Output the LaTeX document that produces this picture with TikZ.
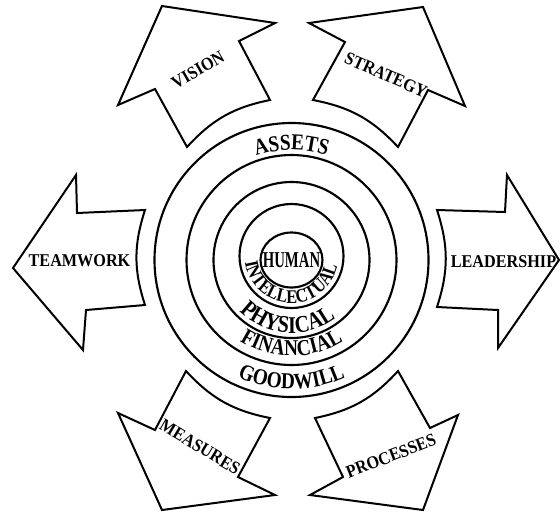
\documentclass[tikz,border=0pt]{standalone}
\usepackage{fontspec}
\setmainfont{Liberation Serif}
\newfontfamily\ringfont[FakeStretch=0.85]{Liberation Serif}
\newfontfamily\arrfont[FakeStretch=0.9]{Liberation Serif}
\newfontfamily\humfont[FakeStretch=0.65]{Liberation Serif}
\usetikzlibrary{decorations.text,calc}
\newcommand\ringstyle{\ringfont\bfseries\fontsize{17}{17}\selectfont}
\newcommand\physstyle{\ringfont\bfseries\fontsize{18}{18}\selectfont}
\newcommand\innerstyle{\ringfont\bfseries\fontsize{14.5}{14.5}\selectfont}
\newcommand\bigarrow[8]{%
  \draw[arrowshape] ($(#1)!0.5!(#2)$) -- (#2) -- (#3) -- (#4) -- (#5) -- (#6) -- (#7) to[bend left=#8] (#1) -- cycle;}
\begin{document}
\begin{tikzpicture}[x=0.75pt,y=0.75pt,
  arrowshape/.style={draw=black, line width=1.5pt, line join=miter, miter limit=10},
  ring/.style={draw=black, line width=1.6pt},
  arrlabel/.style={font=\arrfont\bfseries\fontsize{13.5}{13.5}\selectfont, inner sep=0pt},
  ringtext/.style={decorate, decoration={text along path, text align=center, text={#1}}}]
\useasboundingbox (0,0) rectangle (560,-512);
\coordinate (C) at (291.5,-260);
\coordinate (C4) at (291.5,-256);
% rings
\draw[ring] (C) circle[radius=137];
\draw[ring] (C) circle[radius=105];
\draw[ring] (C) circle[radius=78];
\draw[ring] (C4) circle[radius=52];
\draw[ring] (C) ellipse[x radius=31, y radius=27.5];
% arrows
\bigarrow{437,-307}{498,-310}{498,-348}{559,-260}{507,-175}{505,-212}{437,-210}{18}
\bigarrow{145,-210}{77,-213}{76,-175}{13,-268}{83,-350}{86,-310}{145,-305}{18}
\bigarrow{270,-100}{239,-41}{275,-23}{162,-6}{118,-105}{155,-89}{187,-147}{18}
\bigarrow{398,-147}{428,-90}{465,-106}{423,-7}{309,-23}{345,-42}{313,-100}{18}
\bigarrow{186,-371}{155,-430}{118,-413}{162,-510}{275,-495}{238,-477}{270,-418}{18}
\bigarrow{315,-418}{343,-477}{310,-495}{423,-510}{458,-415}{430,-428}{398,-371}{18}
% arrow labels
\node[arrlabel, rotate=30] (vision) at (198,-70) {VISION};
\node[arrlabel, rotate=-24] (strategy) at (386,-75) {STRATEGY};
\node[arrlabel] (teamwork) at (79.5,-261) {TEAMWORK};
\node[arrlabel] (leadership) at (503.5,-262) {LEADERSHIP};
\node[arrlabel, rotate=-31] (measures) at (200,-447) {MEASURES};
\node[arrlabel, rotate=21] (processes) at (391,-456) {PROCESSES};
% ring texts
\path[ringtext={|\ringstyle|ASSETS}] ($(C)+(160:110)$) arc[start angle=160, end angle=20, radius=110];
\path[ringtext={|\ringstyle|GOODWILL}] ($(C)+(200:129)$) arc[start angle=200, end angle=340, radius=129];
\path[ringtext={|\ringstyle|FINANCIAL}] ($(C)+(190:96)$) arc[start angle=190, end angle=350, radius=96];
\path[ringtext={|\physstyle|PHYSICAL}] ($(C)+(176:73)$) arc[start angle=176, end angle=356, radius=73];
\path[ringtext={|\innerstyle|INTELLECTUAL}] ($(C4)+(147.5:47)$) arc[start angle=147.5, end angle=387.5, radius=47];
\node[font=\humfont\bfseries\fontsize{17}{17}\selectfont, inner sep=0pt] (human) at (C) {HUMAN};
\end{tikzpicture}
\end{document}
